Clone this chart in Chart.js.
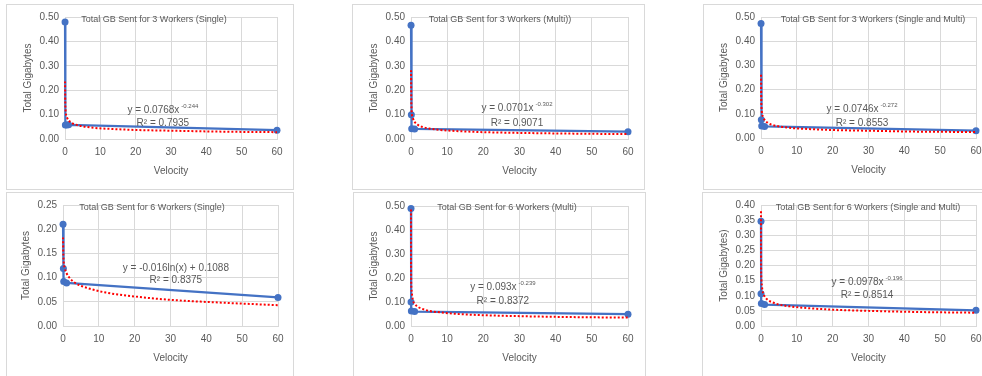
<!DOCTYPE html>
<html>
<head>
<meta charset="utf-8">
<script src="https://cdn.jsdelivr.net/npm/chart.js@4.4.0/dist/chart.umd.min.js"></script>
<style>
  html, body { margin: 0; padding: 0; background: #fff; width: 982px; height: 376px; overflow: hidden; }
  .box { position: absolute; border: 1px solid #d9d9d9; background: #fff; }
  .box canvas { display: block; }
</style>
</head>
<body>
<div class="box" style="left:6px;top:4px;"><canvas id="c1" width="286" height="184"></canvas></div>
<div class="box" style="left:352px;top:4px;"><canvas id="c2" width="291" height="184"></canvas></div>
<div class="box" style="left:703px;top:4px;"><canvas id="c3" width="338" height="184"></canvas></div>
<div class="box" style="left:6px;top:192px;"><canvas id="c4" width="286" height="190"></canvas></div>
<div class="box" style="left:353px;top:192px;"><canvas id="c5" width="291" height="190"></canvas></div>
<div class="box" style="left:702px;top:192px;"><canvas id="c6" width="331" height="190"></canvas></div>
<script>
(function () {
    'use strict';

    // measured runs: velocity vs total GB sent
    var w3SingleX = [0.01, 0.1, 0.5, 1, 60];
    var w3SingleY = [0.48, 0.057, 0.057, 0.058, 0.036];
    var w3MultiX = [0.01, 0.1, 0.2, 1, 60];
    var w3MultiY = [0.466, 0.099, 0.042, 0.041, 0.030];
    var w3BothX = [0.01, 0.1, 0.2, 1, 60];
    var w3BothY = [0.473, 0.075, 0.050, 0.048, 0.030];
    var w6SingleX = [0.01, 0.1, 0.2, 1, 60];
    var w6SingleY = [0.21, 0.119, 0.092, 0.089, 0.059];
    var w6MultiX = [0.001, 0.01, 0.1, 1, 60];
    var w6MultiY = [0.49, 0.10, 0.062, 0.06, 0.049];
    var w6BothX = [0.001, 0.01, 0.1, 1, 60];
    var w6BothY = [0.346, 0.107, 0.074, 0.071, 0.052];

    // trendline samples (red dotted)
    var trendX = [0.01, 0.1, 0.5, 1, 2, 3, 5, 8, 12, 20, 30, 45, 60];
    var trendXWide = [0.001, 0.01, 0.1, 0.5, 1, 2, 3, 5, 8, 12, 20, 30, 45, 60];
    var w3SingleTrend = [0.236, 0.135, 0.091, 0.077, 0.065, 0.059, 0.052, 0.046, 0.042, 0.037, 0.034, 0.030, 0.028];
    var w3MultiTrend = [0.282, 0.141, 0.086, 0.070, 0.057, 0.050, 0.043, 0.037, 0.033, 0.028, 0.025, 0.022, 0.020];
    var w3BothTrend = [0.261, 0.140, 0.090, 0.075, 0.062, 0.055, 0.048, 0.042, 0.038, 0.033, 0.030, 0.026, 0.025];
    var w6SingleTrend = [0.183, 0.146, 0.120, 0.109, 0.098, 0.091, 0.083, 0.076, 0.069, 0.061, 0.054, 0.048, 0.043];
    var w6MultiTrend = [0.485, 0.280, 0.161, 0.110, 0.093, 0.079, 0.072, 0.063, 0.057, 0.051, 0.045, 0.041, 0.037, 0.035];
    var w6BothTrend = [0.379, 0.241, 0.154, 0.112, 0.098, 0.085, 0.079, 0.071, 0.065, 0.060, 0.054, 0.050, 0.046, 0.044];

    var xTicks = [0, 10, 20, 30, 40, 50, 60];

    var FONT = '"Liberation Sans", Arial, sans-serif';
    var TEXT = '#595959';
    var GRID = '#d9d9d9';

    Chart.defaults.font.family = FONT;
    Chart.defaults.font.size = 10;
    Chart.defaults.color = TEXT;

    function zip(xs, ys) {
        return xs.map(function (x, i) { return { x: x, y: ys[i] }; });
    }

    // chart title, trendline equation and R² drawn over the plot
    var overlayText = {
        id: 'overlayText',
        afterDatasetsDraw: function (chart, args, o) {
            var ctx = chart.ctx;
            var xs = chart.scales.x, ys = chart.scales.y;
            ctx.save();
            ctx.fillStyle = TEXT;
            ctx.textBaseline = 'middle';

            ctx.font = '9px ' + FONT;
            ctx.textAlign = 'center';
            ctx.fillText(o.title, o.titleX, 15);

            var cx = xs.getPixelForValue(o.eqAt[0]);
            var cy = ys.getPixelForValue(o.eqAt[1]);
            ctx.font = '10px ' + FONT;
            var mainW = ctx.measureText(o.eq).width;
            ctx.font = '6px ' + FONT;
            var supW = o.sup ? ctx.measureText(o.sup).width + 2 : 0;
            var left = cx - (mainW + supW) / 2;
            ctx.textAlign = 'left';
            ctx.font = '10px ' + FONT;
            ctx.fillText(o.eq, left, cy);
            if (o.sup) {
                ctx.font = '6px ' + FONT;
                ctx.fillText(o.sup, left + mainW + 2, cy - 4);
            }

            ctx.font = '10px ' + FONT;
            ctx.textAlign = 'center';
            ctx.fillText(o.r2, xs.getPixelForValue(o.r2At[0]), ys.getPixelForValue(o.r2At[1]));
            ctx.restore();
        }
    };

    function buildChart(id, c) {
        var canvas = document.getElementById(id);
        var yAxisW = 47, xAxisH = 42;
        var p = c.plot; // left, top, right, bottom inside the canvas

        new Chart(canvas, {
            type: 'scatter',
            data: {
                datasets: [
                    {
                        label: 'Trend',
                        data: zip(c.trendX, c.trendY),
                        showLine: true,
                        clip: false,
                        borderColor: '#ff0000',
                        borderWidth: 2,
                        borderDash: [2, 2],
                        pointRadius: 0,
                        cubicInterpolationMode: 'monotone',
                        order: 0
                    },
                    {
                        label: 'Total GB',
                        data: zip(c.x, c.y),
                        showLine: true,
                        clip: false,
                        borderColor: '#4472c4',
                        backgroundColor: '#4472c4',
                        borderWidth: 2.25,
                        pointRadius: 3.5,
                        pointBorderWidth: 0,
                        pointBackgroundColor: '#4472c4',
                        order: 1
                    }
                ]
            },
            options: {
                responsive: false,
                animation: false,
                layout: {
                    padding: {
                        left: p[0] - yAxisW,
                        top: p[1],
                        right: canvas.width - p[2],
                        bottom: canvas.height - p[3] - xAxisH
                    }
                },
                plugins: {
                    legend: { display: false },
                    tooltip: { enabled: false },
                    overlayText: c.text
                },
                scales: {
                    x: {
                        type: 'linear',
                        min: 0,
                        max: 60,
                        afterBuildTicks: function (s) {
                            s.ticks = xTicks.map(function (v) { return { value: v }; });
                        },
                        afterFit: function (s) { s.height = xAxisH; },
                        ticks: { padding: 7, color: TEXT, font: { size: 10 } },
                        grid: { color: GRID, drawTicks: false },
                        border: { color: GRID },
                        title: { display: true, text: 'Velocity', color: TEXT, font: { size: 10 } }
                    },
                    y: {
                        min: 0,
                        max: c.yMax,
                        afterFit: function (s) { s.width = yAxisW; },
                        ticks: {
                            stepSize: c.yStep,
                            padding: 6,
                            color: TEXT,
                            font: { size: 10 },
                            callback: function (v) { return v.toFixed(2); }
                        },
                        grid: { color: GRID, drawTicks: false },
                        border: { color: GRID },
                        title: { display: true, text: c.yTitle, color: TEXT, font: { size: 10 } }
                    }
                }
            },
            plugins: [overlayText]
        });
    }

    buildChart('c1', {
        x: w3SingleX, y: w3SingleY, trendX: trendX, trendY: w3SingleTrend,
        yMax: 0.5, yStep: 0.1, yTitle: 'Total Gigabytes', plot: [58, 12, 270, 134],
        text: { title: 'Total GB Sent for 3 Workers (Single)', titleX: 147,
                eq: 'y = 0.0768x', sup: '-0.244', eqAt: [27.7, 0.119], r2: 'R² = 0.7935', r2At: [27.7, 0.066] }
    });
    buildChart('c2', {
        x: w3MultiX, y: w3MultiY, trendX: trendX, trendY: w3MultiTrend,
        yMax: 0.5, yStep: 0.1, yTitle: 'Total Gigabytes', plot: [58, 12, 275, 134],
        text: { title: 'Total GB Sent for 3 Workers (Multi))', titleX: 147,
                eq: 'y = 0.0701x', sup: '-0.302', eqAt: [29.3, 0.127], r2: 'R² = 0.9071', r2At: [29.3, 0.066] }
    });
    buildChart('c3', {
        x: w3BothX, y: w3BothY, trendX: trendX, trendY: w3BothTrend,
        yMax: 0.5, yStep: 0.1, yTitle: 'Total Gigabytes', plot: [57, 11, 272, 133],
        text: { title: 'Total GB Sent for 3 Workers (Single and Multi)', titleX: 169,
                eq: 'y = 0.0746x', sup: '-0.272', eqAt: [28.2, 0.119], r2: 'R² = 0.8553', r2At: [28.2, 0.061] }
    });
    buildChart('c4', {
        x: w6SingleX, y: w6SingleY, trendX: trendX, trendY: w6SingleTrend,
        yMax: 0.25, yStep: 0.05, yTitle: 'Total Gigabytes', plot: [56, 11, 271, 133],
        text: { title: 'Total GB Sent for 6 Workers (Single)', titleX: 145,
                eq: 'y = -0.016ln(x) + 0.1088', sup: '', eqAt: [31.5, 0.119], r2: 'R² = 0.8375', r2At: [31.5, 0.094] }
    });
    buildChart('c5', {
        x: w6MultiX, y: w6MultiY, trendX: trendXWide, trendY: w6MultiTrend,
        yMax: 0.5, yStep: 0.1, yTitle: 'Total Gigabytes', plot: [57, 13, 274, 133],
        text: { title: 'Total GB Sent for 6 Workers (Multi)', titleX: 153,
                eq: 'y = 0.093x', sup: '-0.239', eqAt: [25.4, 0.162], r2: 'R² = 0.8372', r2At: [25.4, 0.104] }
    });
    buildChart('c6', {
        x: w6BothX, y: w6BothY, trendX: trendXWide, trendY: w6BothTrend,
        yMax: 0.4, yStep: 0.05, yTitle: 'Total Gigabytes)', plot: [58, 10, 273, 133],
        text: { title: 'Total GB Sent for 6 Workers (Single and Multi)', titleX: 165,
                eq: 'y = 0.0978x', sup: '-0.196', eqAt: [29.6, 0.143], r2: 'R² = 0.8514', r2At: [29.6, 0.101] }
    });
})();
</script>
</body>
</html>
